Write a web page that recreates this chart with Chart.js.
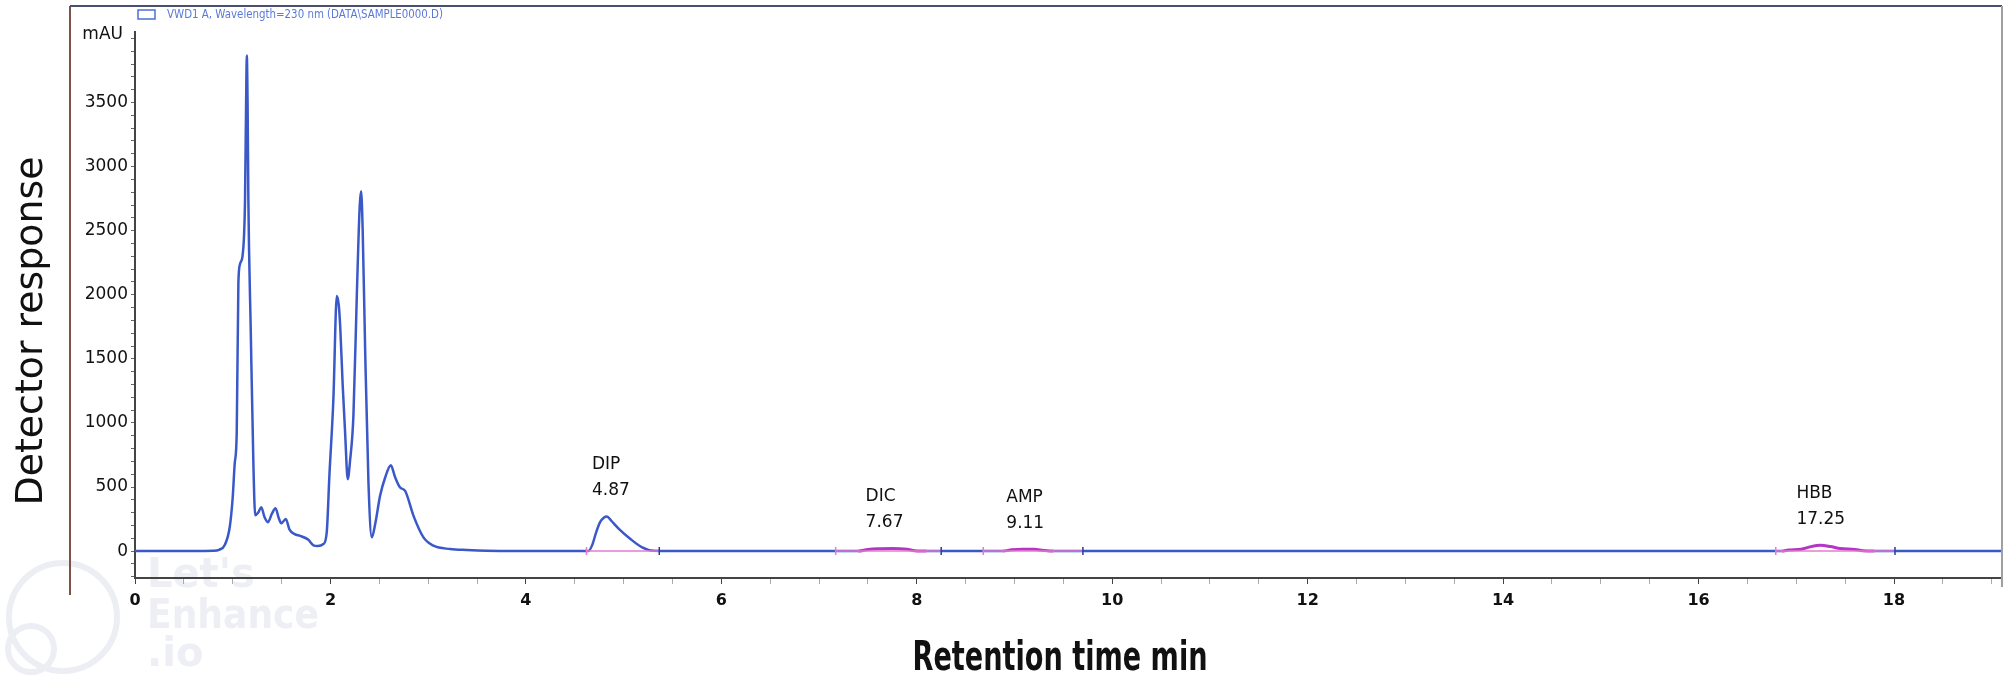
<!DOCTYPE html>
<html>
<head>
<meta charset="utf-8">
<title>Chromatogram</title>
<script src="https://cdn.jsdelivr.net/npm/chart.js@4.4.1/dist/chart.umd.min.js"></script>
<style>
  html, body { margin: 0; padding: 0; background: #fff; }
  canvas { display: block; }
</style>
</head>
<body>
<canvas id="chromChart" width="2007" height="683"></canvas>
<script>
// retention time (min) and detector response (mAU)
const retentionTimes = [
	0, 0.6, 0.8, 0.86, 0.92, 0.97, 1.0, 1.02, 1.041, 1.058, 1.075, 1.1, 1.115, 1.126, 1.137, 1.144,
	1.152, 1.16, 1.185, 1.211, 1.23, 1.26, 1.292, 1.325, 1.36, 1.4, 1.438, 1.47, 1.497, 1.543, 1.58,
	1.634, 1.689, 1.771, 1.826, 1.87, 1.928, 1.962, 1.99, 2.03, 2.065, 2.085, 2.1, 2.125, 2.15, 2.177,
	2.2, 2.235, 2.27, 2.3, 2.314, 2.33, 2.355, 2.389, 2.423, 2.46, 2.508, 2.56, 2.618, 2.66, 2.713,
	2.764, 2.85, 2.952, 3.054, 3.225, 3.396, 3.6, 3.9,
	4.64, 4.68, 4.719, 4.758, 4.8, 4.829, 4.87, 4.954, 5.07, 5.19, 5.307, 5.5,
	7.4, 7.5, 7.6, 7.75, 7.9, 7.98, 8.1,
	8.88, 8.97, 9.08, 9.2, 9.3, 9.4,
	16.85, 16.92, 17.05, 17.15, 17.25, 17.35, 17.45, 17.6, 17.68, 17.8, 19.1,
];
const responses = [
	0, 0, 2, 10, 50, 190, 420, 680, 925, 2094, 2240, 2300, 2450, 2744, 3500, 3866,
	3500, 2744, 1700, 700, 280, 300, 342, 265, 225, 290, 334, 260, 217, 251, 170,
	132, 119, 90, 45, 40, 55, 146, 600, 1185, 1990, 1920, 1750, 1300, 925, 561,
	700, 1055, 2000, 2700, 2808, 2500, 1574, 535, 107, 220, 431, 574, 670, 580, 496,
	470, 275, 107, 42, 16, 8, 2, 0,
	0, 50, 146, 224, 262, 270, 240, 171, 94, 29, 2, 0,
	0, 12, 18, 20, 14, 3, 0,
	0, 10, 15, 14, 5, 0,
	0, 8, 15, 35, 45, 35, 20, 12, 3, 0, 0,
];

const peakNames = ["DIP", "DIC", "AMP", "HBB"];
const peakTimes = [4.87, 7.67, 9.11, 17.25];
const peakApex = [270, 20, 15, 45];
const integrationStart = [4.62, 7.17, 8.68, 16.79];
const integrationEnd = [5.365, 8.25, 9.7, 18.01];

const xLabelValues = [0, 2, 4, 6, 8, 10, 12, 14, 16, 18];
const yLabelValues = [0, 500, 1000, 1500, 2000, 2500, 3000, 3500];
const legendText = "VWD1 A, Wavelength=230 nm (DATA\\SAMPLE0000.D)";

const traceBlue = "#3a58c8";
const peakMagenta = "#b535c4";
const integrationPink = "#e67ad2";

const tracePoints = retentionTimes.map((t, i) => ({ x: t, y: responses[i] }));
const isSmallPeak = (x0, x1) => {
	for (let i = 1; i < integrationStart.length; i++) {
		if (x0 >= integrationStart[i] && x1 <= integrationEnd[i]) return true;
	}
	return false;
};
const integrationSets = integrationStart.map((s, i) => ({
	data: [{ x: s, y: 0 }, { x: integrationEnd[i], y: 0 }],
	borderColor: integrationPink,
	borderWidth: 1.5,
	pointRadius: 0,
	order: 1,
}));

const decorations = {
	id: "decorations",
	beforeDraw(chart) {
		const c = chart.ctx;
		c.save();
		c.fillStyle = "#fff";
		c.fillRect(0, 0, chart.width, chart.height);
		// faint watermark
		c.strokeStyle = "#eceef4";
		c.lineWidth = 6;
		c.beginPath();
		c.arc(63, 617, 54, 0, Math.PI * 2);
		c.stroke();
		c.beginPath();
		c.arc(31, 649, 23, 0, Math.PI * 2);
		c.stroke();
		c.fillStyle = "#edeff5";
		c.font = "bold 40px 'DejaVu Sans'";
		c.textBaseline = "middle";
		c.textAlign = "left";
		c.fillText("Let's", 147, 577);
		c.fillText("Enhance", 147, 618, 172);
		c.fillText(".io", 147, 656);
		c.restore();
	},
	afterDraw(chart) {
		const c = chart.ctx;
		const xs = chart.scales.x;
		const ys = chart.scales.y;
		c.save();
		// outer frame
		c.lineWidth = 2;
		c.strokeStyle = "#7d5248";
		c.beginPath();
		c.moveTo(70, 6);
		c.lineTo(70, 595);
		c.stroke();
		c.strokeStyle = "#4a5070";
		c.beginPath();
		c.moveTo(70, 6);
		c.lineTo(2002, 6);
		c.stroke();
		c.strokeStyle = "#a0a0a0";
		c.beginPath();
		c.moveTo(2002, 6);
		c.lineTo(2002, 587);
		c.stroke();

		// legend entry
		c.strokeStyle = "#4a6fd6";
		c.lineWidth = 1.5;
		c.strokeRect(138, 10, 17, 9);
		c.fillStyle = "#5a7ad8";
		c.font = "12px 'DejaVu Sans'";
		c.textAlign = "left";
		c.textBaseline = "middle";
		c.fillText(legendText, 167, 15, 276);

		// unit
		c.fillStyle = "#111";
		c.font = "17px 'DejaVu Sans'";
		c.textAlign = "right";
		c.fillText("mAU", 123, 35);

		// axis titles
		c.save();
		c.translate(32, 331);
		c.rotate(-Math.PI / 2);
		c.textAlign = "center";
		c.font = "38px 'DejaVu Sans'";
		c.fillText("Detector response", 0, 0, 349);
		c.restore();
		c.textAlign = "center";
		c.font = "bold 40px 'DejaVu Sans Condensed'";
		c.fillText("Retention time min", 1060, 660, 295);

		// peak labels
		c.font = "17px 'DejaVu Sans'";
		c.textAlign = "left";
		peakNames.forEach((name, i) => {
			const px = xs.getPixelForValue(peakTimes[i]);
			const py = ys.getPixelForValue(peakApex[i]);
			const num = peakTimes[i].toFixed(2);
			const left = px - c.measureText(num).width / 2;
			c.fillText(name, left, py - 52);
			c.fillText(num, left, py - 26);
		});
		c.restore();
	},
};

Chart.defaults.font.family = "'DejaVu Sans'";
Chart.defaults.color = "#111";

new Chart(document.getElementById("chromChart"), {
	type: "line",
	data: {
		datasets: [
			{
				data: tracePoints,
				borderColor: traceBlue,
				borderWidth: 2.5,
				pointRadius: 0,
				cubicInterpolationMode: "monotone",
				order: 2,
				segment: {
					borderColor: (ctx) => (isSmallPeak(ctx.p0.parsed.x, ctx.p1.parsed.x) ? peakMagenta : undefined),
					borderWidth: (ctx) => (isSmallPeak(ctx.p0.parsed.x, ctx.p1.parsed.x) ? 3 : undefined),
				},
			},
			...integrationSets,
			{
				type: "scatter",
				data: integrationStart.map((s) => ({ x: s, y: 0 })),
				pointStyle: "line",
				rotation: 90,
				radius: 4,
				borderWidth: 1.5,
				borderColor: integrationPink,
				order: 0,
			},
			{
				type: "scatter",
				data: integrationEnd.map((s) => ({ x: s, y: 0 })),
				pointStyle: "line",
				rotation: 90,
				radius: 4,
				borderWidth: 1.5,
				borderColor: "#2a3aa0",
				order: 0,
			},
		],
	},
	options: {
		responsive: false,
		animation: false,
		layout: { padding: { top: 32, right: 5, left: 0, bottom: 0 } },
		plugins: {
			legend: { display: false },
			tooltip: { enabled: false },
		},
		scales: {
			x: {
				type: "linear",
				min: 0,
				max: 19.1,
				afterFit: (s) => {
					s.height = 105;
				},
				border: { display: true, color: "#444", width: 2 },
				grid: {
					drawOnChartArea: false,
					drawTicks: true,
					tickLength: 6,
					tickColor: (ctx) => (ctx.tick && ctx.tick.value % 2 === 0 ? "#444" : "#aaa"),
				},
				ticks: {
					stepSize: 0.5,
					autoSkip: false,
					maxRotation: 0,
					includeBounds: false,
					padding: 7,
					font: { size: 16, weight: "bold" },
					callback: (v) => (xLabelValues.includes(v) ? String(v) : ""),
				},
			},
			y: {
				min: -210,
				max: 4050,
				afterFit: (s) => {
					s.width = 135;
				},
				border: { display: true, color: "#444", width: 2 },
				grid: {
					drawOnChartArea: false,
					drawTicks: true,
					tickLength: 4,
					tickColor: "#666",
				},
				ticks: {
					stepSize: 100,
					autoSkip: false,
					includeBounds: false,
					padding: 3,
					font: { size: 17 },
					callback: (v) => (yLabelValues.includes(v) ? String(v) : ""),
				},
			},
		},
	},
	plugins: [decorations],
});
</script>
</body>
</html>
